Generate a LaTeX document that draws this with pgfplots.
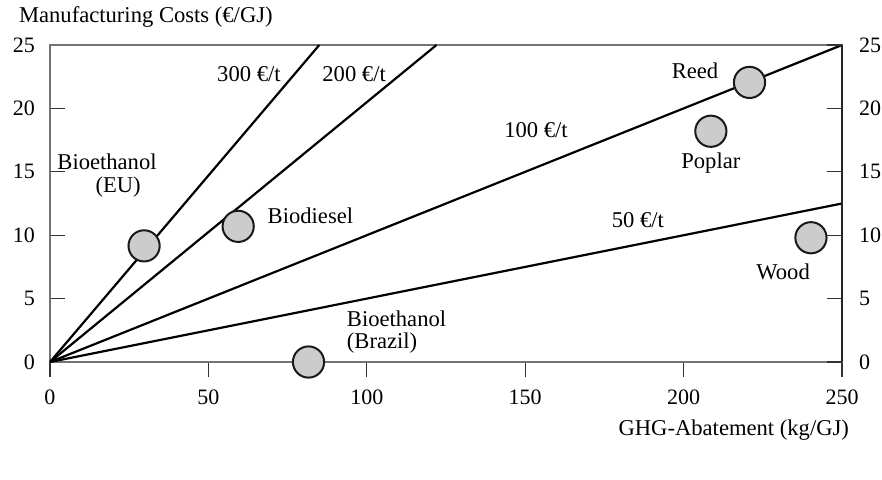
\documentclass[border=0pt]{standalone}
\usepackage{pgfplots}
\pgfplotsset{compat=1.18}
\usepackage{fontspec}
\setmainfont{Liberation Serif}
\begin{document}
\begin{tikzpicture}[font=\fontsize{11.3}{13}\selectfont]
\useasboundingbox (-25pt,-58.5pt) rectangle (416pt,181pt);
\begin{axis}[at={(0,0)},anchor=south west, scale only axis,
  width=396pt, height=158.5pt,
  xmin=0,xmax=250,ymin=0,ymax=25,
  xtick={0,50,...,250}, ytick={0,5,...,25},
  xtick pos=bottom, xtick align=outside,
  ytick pos=left, ytick align=inside,
  major tick length=7.5pt,
  axis line style={black!55, line width=0.7pt},
  tick style={black!80, line width=0.6pt},
  clip=false,
  /pgf/number format/assume math mode=true,
  ticklabel style={font=\fontsize{11}{13}\selectfont},
  xticklabel style={yshift=-3pt},
  yticklabel style={xshift=-4pt},
]
\addplot[black, line width=1.1pt] coordinates {(0,0) (85,25)};
\addplot[black, line width=1.1pt] coordinates {(0,0) (122,25)};
\addplot[black, line width=1.1pt] coordinates {(0,0) (250,25)};
\addplot[black, line width=1.1pt] coordinates {(0,0) (250,12.5)};
\addplot[only marks, mark=*, mark size=7.8pt, mark options={fill=black!20, draw=black!90, line width=1pt}] coordinates {
(29.7,9.16) (59.4,10.7) (81.6,0) (208.6,18.2) (220.8,22.05) (240.2,9.8)};
\node at (axis cs:62.8,22.7) {300 €/t};
\node at (axis cs:96.0,22.7) {200 €/t};
\node at (axis cs:153.4,18.3) {100 €/t};
\node at (axis cs:185.6,11.2) {50 €/t};
\node at (axis cs:203.6,23.0) {Reed};
\node at (axis cs:208.6,15.7) {Poplar};
\node at (axis cs:231.4,7.1) {Wood};
\node[anchor=west] at (axis cs:66.5,11.5) {Biodiesel};
\node at (axis cs:18.0,15.8) {Bioethanol};
\node at (axis cs:21.5,13.8) {(EU)};
\node[anchor=west] at (axis cs:91.5,3.4) {Bioethanol};
\node[anchor=west] at (axis cs:91.5,1.5) {(Brazil)};
\end{axis}
\begin{axis}[at={(0,0)},anchor=south west, scale only axis,
  width=396pt, height=158.5pt,
  xmin=0,xmax=250,ymin=0,ymax=25,
  hide x axis, axis y line*=right,
  ytick={0,5,...,25}, ytick align=inside,
  major tick length=7.5pt,
  axis line style={black!85, line width=0.7pt},
  tick style={black!80, line width=0.6pt},
  /pgf/number format/assume math mode=true,
  ticklabel style={font=\fontsize{11}{13}\selectfont},
  yticklabel style={xshift=5pt},
]
\addplot[draw=none] coordinates {(0,0)};
\end{axis}
\node[anchor=west] at (-19pt,172.5pt) {Manufacturing Costs (€/GJ)};
\node[anchor=east] at (403pt,-34pt) {GHG-Abatement (kg/GJ)};
\end{tikzpicture}
\end{document}
